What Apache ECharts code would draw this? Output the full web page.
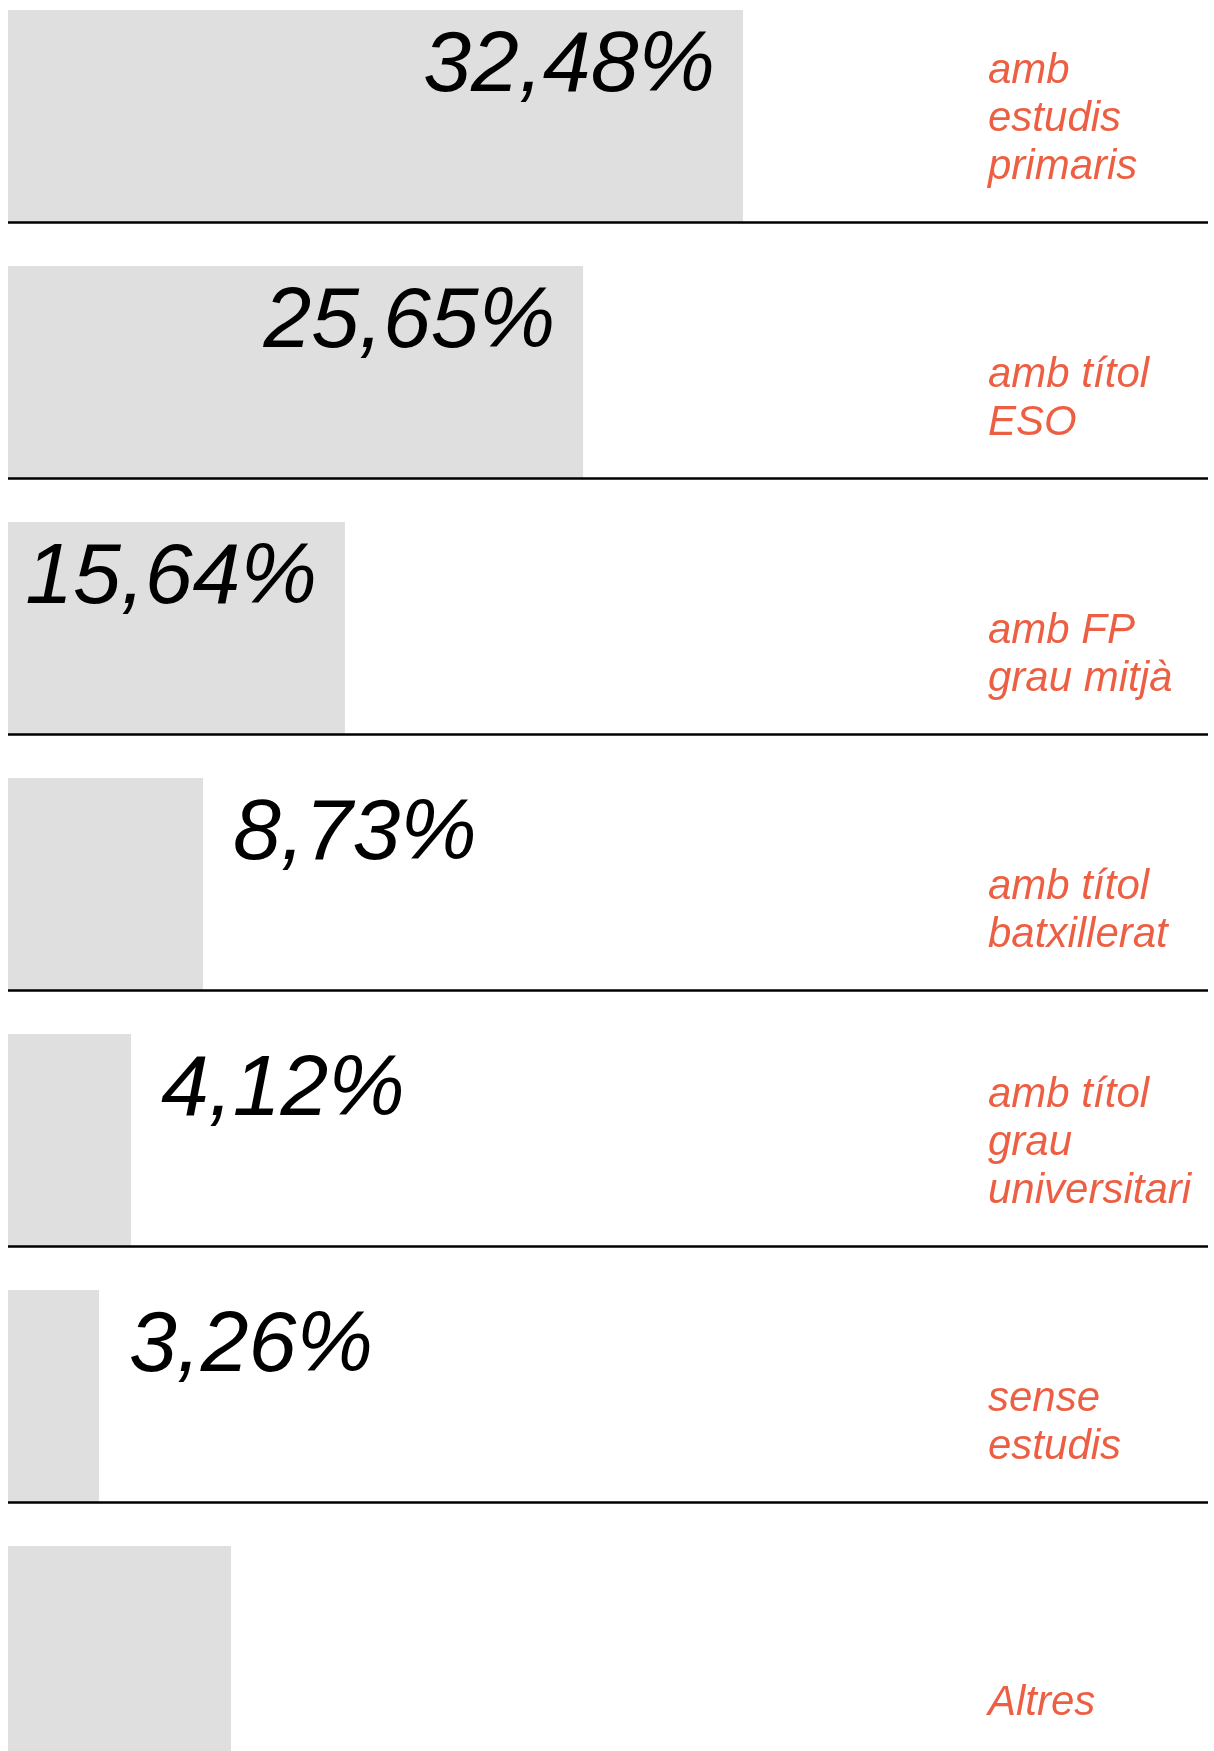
<!DOCTYPE html>
<html><head><meta charset="utf-8">
<script src="https://cdn.jsdelivr.net/npm/echarts@6/dist/echarts.min.js"></script>
<style>html,body{margin:0;padding:0;background:#fff;overflow:hidden;width:1214px;height:1751px;position:relative}#c{position:absolute;left:0;top:-34px;width:1214px;height:1792px}</style>
</head><body><div id="c"></div>
<script>
const categories = ['amb\nestudis\nprimaris', 'amb títol\nESO', 'amb FP\ngrau mitjà', 'amb títol\nbatxillerat', 'amb títol\ngrau\nuniversitari', 'sense\nestudis', 'Altres'];
const percentages = [32.48, 25.65, 15.64, 8.73, 4.12, 3.26, null];
const barLengths = [32.46, 25.40, 14.88, 8.61, 5.43, 4.02, 9.85];
const axisMax = 53;

const chart = echarts.init(document.getElementById('c'), null, {renderer: 'canvas'});
function fmt(v) { return v.toFixed(2).replace('.', ',') + '%'; }
const barData = barLengths.map((v, i) => {
  const p = percentages[i];
  const inside = v > 12;
  if (p == null) return { value: v, label: { show: false } };
  return {
    value: v,
    label: {
      show: true,
      formatter: fmt(p),
      position: ['100%', 14],
      align: inside ? 'right' : 'left',
      verticalAlign: 'top',
      offset: [inside ? -28 : 30, 0]
    }
  };
});
const spacerData = categories.map(() => axisMax);

chart.setOption({
  animation: false,
  grid: { left: 8, right: 6, top: 0, bottom: 0 },
  xAxis: { type: 'value', min: 0, max: axisMax, show: false },
  yAxis: {
    type: 'category', data: categories, inverse: true, z: 5,
    axisLine: { show: false }, axisTick: { show: false }, axisLabel: { show: false },
    splitLine: { show: true, interval: 0, lineStyle: { color: '#000', width: 2.5 } }
  },
  series: [
    {
      type: 'bar', name: 'spacer', data: spacerData, barWidth: 44, barGap: 0, barCategoryGap: 0,
      itemStyle: { color: 'rgba(0,0,0,0)' }, silent: true,
      label: {
        show: true, position: [980, 225], align: 'left', verticalAlign: 'bottom',
        formatter: p => categories[p.dataIndex],
        fontFamily: 'Liberation Sans', fontStyle: 'italic', fontSize: 42, lineHeight: 48, color: '#ec5f43'
      }
    },
    {
      type: 'bar', name: 'share', data: barData, barWidth: 212, barGap: 0, barCategoryGap: 0,
      itemStyle: { color: '#dfdfdf' }, silent: true,
      label: { fontFamily: 'Liberation Sans', fontStyle: 'italic', fontSize: 86, lineHeight: 86, color: '#000' }
    }
  ]
});
</script></body></html>
